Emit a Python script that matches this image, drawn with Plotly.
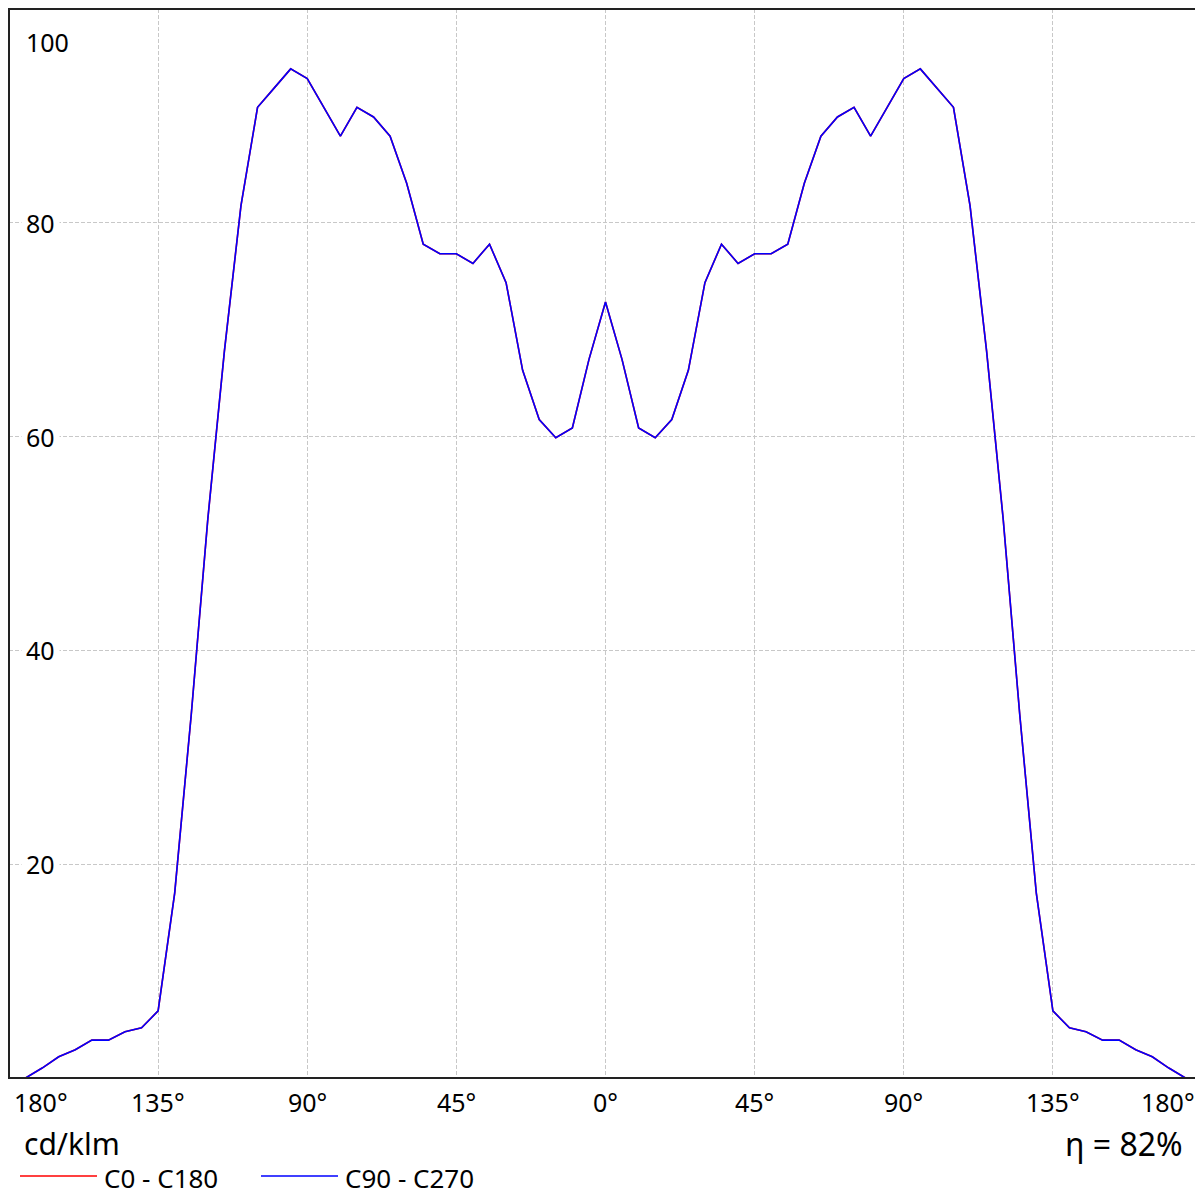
import plotly.graph_objects as go

# Data: luminous intensity (cd/klm) vs. angle, 5 degree steps
angles = [-180, -175, -170, -165, -160, -155, -150, -145, -140, -135, -130, -125, -120,
          -115, -110, -105, -100, -95, -90, -85, -80, -75, -70, -65, -60, -55, -50,
          -45, -40, -35, -30, -25, -20, -15, -10, -5, 0,
          5, 10, 15, 20, 25, 30, 35, 40, 45, 50, 55, 60, 65, 70, 75, 80, 85, 90,
          95, 100, 105, 110, 115, 120, 125, 130, 135, 140, 145, 150, 155, 160, 165,
          170, 175, 180]

c0_c180 = [0.0, 0.0, 0.93, 1.99, 2.64, 3.54, 3.54, 4.32, 4.69, 6.28, 17.3, 34.0, 52.3,
           68.0, 81.6, 90.8, 92.6, 94.4, 93.5, 90.8, 88.1, 90.8, 89.9, 88.1, 83.7, 78.0, 77.1,
           77.1, 76.2, 78.0, 74.4, 66.2, 61.6, 59.9, 60.8, 67.2, 72.6,
           67.2, 60.8, 59.9, 61.6, 66.2, 74.4, 78.0, 76.2, 77.1, 77.1, 78.0, 83.7, 88.1, 89.9,
           90.8, 88.1, 90.8, 93.5, 94.4, 92.6, 90.8, 81.6, 68.0, 52.3, 34.0, 17.3, 6.28, 4.69,
           4.32, 3.54, 3.54, 2.64, 1.99, 0.93, 0.0, 0.0]

c90_c270 = [0.0, 0.0, 0.93, 1.99, 2.64, 3.54, 3.54, 4.32, 4.69, 6.28, 17.3, 34.0, 52.3,
            68.0, 81.6, 90.8, 92.6, 94.4, 93.5, 90.8, 88.1, 90.8, 89.9, 88.1, 83.7, 78.0, 77.1,
            77.1, 76.2, 78.0, 74.4, 66.2, 61.6, 59.9, 60.8, 67.2, 72.6,
            67.2, 60.8, 59.9, 61.6, 66.2, 74.4, 78.0, 76.2, 77.1, 77.1, 78.0, 83.7, 88.1, 89.9,
            90.8, 88.1, 90.8, 93.5, 94.4, 92.6, 90.8, 81.6, 68.0, 52.3, 34.0, 17.3, 6.28, 4.69,
            4.32, 3.54, 3.54, 2.64, 1.99, 0.93, 0.0, 0.0]

series_names = ["C0 - C180", "C90 - C270"]
series_colors = ["#ff0000", "#0000ff"]

x_tick_vals = [-180, -135, -90, -45, 0, 45, 90, 135, 180]
x_tick_text = ["180°", "135°", "90°", "45°", "0°", "45°", "90°", "135°", "180°"]
y_tick_vals = [20, 40, 60, 80, 100]
y_tick_text = ["20", "40", "60", "80", "100"]

unit_label = "cd/klm"
eta_label = "η = 82%"

FONT = "Noto Sans"
OFF = 8  # page body margin
W, H = 1195, 1188
ML, MR, MT, MB = 1, 1, 1, 118
PW, PH = W - ML - MR, H - MT - MB


def px(xp):
    """page pixel x -> paper coordinate"""
    return (xp - OFF - ML) / PW


def py(yp):
    """page pixel y -> paper coordinate"""
    return (OFF + H - MB - yp) / PH


fig = go.Figure()
for name, vals, col in zip(series_names, [c0_c180, c90_c270], series_colors):
    fig.add_trace(go.Scatter(x=angles, y=vals, mode="lines", name=name,
                             line=dict(color=col, width=1.6), showlegend=False,
                             cliponaxis=True))

annotations = []
# y tick labels (inside plot, white background)
for v, t in zip(y_tick_vals, y_tick_text):
    a = dict(x=0, xref="paper", y=v, yref="y", text=t,
             xanchor="left", yanchor="middle", xshift=12,
             showarrow=False, bgcolor="white", borderpad=4,
             font=dict(family=FONT, size=25, color="black"))
    if v == 100:
        a["yshift"] = -33
    annotations.append(a)

# x tick labels below plot
for v, t in zip(x_tick_vals, x_tick_text):
    if v == -180:
        a = dict(x=px(12), xref="paper", xanchor="left")
    elif v == 180:
        a = dict(x=px(1197), xref="paper", xanchor="right")
    else:
        a = dict(x=v, xref="x", xanchor="center")
    a.update(y=py(1102), yref="paper", yanchor="middle", text=t, showarrow=False,
             font=dict(family=FONT, size=25, color="black"))
    annotations.append(a)

annotations.append(dict(x=px(22), xref="paper", y=py(1143), yref="paper", text=unit_label,
                        xanchor="left", yanchor="middle", showarrow=False,
                        font=dict(family=FONT, size=30, color="black")))
annotations.append(dict(x=px(1185), xref="paper", y=py(1143), yref="paper", text=eta_label,
                        xanchor="right", yanchor="middle", showarrow=False,
                        font=dict(family=FONT, size=32, color="black")))

# plot frame
shapes = [dict(type="rect", xref="paper", yref="paper", x0=0, x1=1, y0=0, y1=1,
               line=dict(color="#222222", width=2), layer="above")]

# manual legend
legend_items = [(20, 97, 103), (261, 338, 344)]
for (x0, x1, tx), name, col in zip(legend_items, series_names, series_colors):
    shapes.append(dict(type="line", xref="paper", yref="paper", x0=px(x0), x1=px(x1),
                       y0=py(1176), y1=py(1176), line=dict(color=col, width=1.5)))
    annotations.append(dict(x=px(tx), xref="paper", y=py(1178), yref="paper", text=name,
                            xanchor="left", yanchor="middle", showarrow=False, borderpad=0,
                            font=dict(family=FONT, size=26, color="black")))

grid = dict(showgrid=True, gridcolor="#c8c8c8", griddash="4px,2px", gridwidth=1,
            showline=False, zeroline=False, showticklabels=False, ticks="",
            fixedrange=True)

fig.update_layout(
    width=W, height=H,
    margin=dict(l=ML, r=MR, t=MT, b=MB),
    paper_bgcolor="white", plot_bgcolor="white",
    xaxis=dict(range=[-180, 180], tickvals=[-135, -90, -45, 0, 45, 90, 135], **grid),
    yaxis=dict(range=[0, 100], tickvals=[20, 40, 60, 80], **grid),
    annotations=annotations, shapes=shapes,
    font=dict(family=FONT),
)

fig.write_html("out.html")
